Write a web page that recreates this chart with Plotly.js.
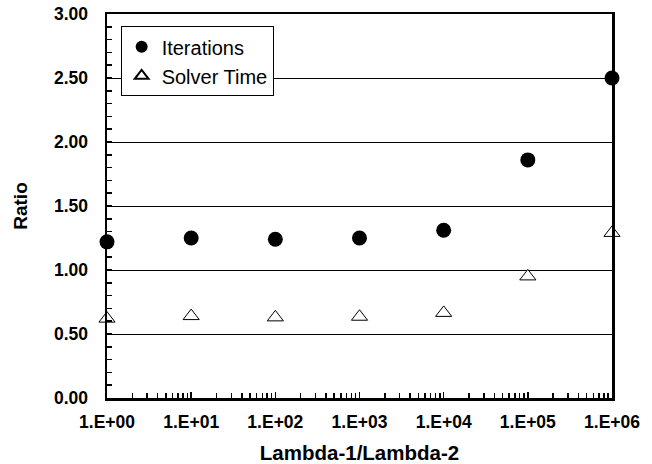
<!DOCTYPE html>
<html>
<head>
<meta charset="utf-8">
<script src="https://cdn.plot.ly/plotly-3.0.1.min.js"></script>
<style>html,body{margin:0;padding:0;background:#fff;}#chart{width:652px;height:464px;}</style>
</head>
<body>
<div id="chart"></div>
<script>
const xValues = [1, 10, 100, 1000, 10000, 100000, 1000000];
const iterations = [1.22, 1.25, 1.24, 1.25, 1.31, 1.86, 2.50];
const solverTime = [0.62, 0.64, 0.63, 0.635, 0.665, 0.95, 1.29];
const xTickVals = [1, 10, 100, 1000, 10000, 100000, 1000000];
const xTickText = ['1.E+00', '1.E+01', '1.E+02', '1.E+03', '1.E+04', '1.E+05', '1.E+06'];
const seriesNames = ['Iterations', 'Solver Time'];

const FONT = 'Liberation Sans, Arial, sans-serif';

// minor log tick positions (2..9 within each decade)
const minorX = [];
for (let d = 0; d < 6; d++) {
  for (let m = 2; m <= 9; m++) minorX.push(m * Math.pow(10, d));
}

const traces = [
  {
    x: xValues, y: iterations, name: seriesNames[0], type: 'scatter', mode: 'markers',
    cliponaxis: false,
    marker: {symbol: 'circle', size: 15, color: '#000', line: {width: 0}}
  },
  {
    x: xValues, y: solverTime, name: seriesNames[1], type: 'scatter', mode: 'markers',
    cliponaxis: false,
    marker: {symbol: 'triangle-up', size: 14, color: '#fff', line: {width: 1, color: '#000'}}
  },
  {
    // carrier trace so the minor-tick overlay axes get drawn
    x: [], y: [], type: 'scatter', mode: 'markers', xaxis: 'x2', yaxis: 'y2',
    showlegend: false, hoverinfo: 'skip'
  }
];

const layout = {
  width: 652, height: 464,
  margin: {l: 107, r: 40, t: 14, b: 66},
  paper_bgcolor: '#fff', plot_bgcolor: '#fff',
  showlegend: true,
  font: {family: FONT, color: '#000'},
  legend: {
    x: 0.027, y: 0.968, xanchor: 'left', yanchor: 'top',
    bordercolor: '#000', borderwidth: 1, bgcolor: '#fff',
    font: {family: FONT, size: 20, color: '#000'},
    itemwidth: 30, tracegroupgap: 0, itemsizing: 'constant'
  },
  xaxis: {
    type: 'log', range: [0, 6],
    tickvals: xTickVals, ticktext: xTickText,
    tickfont: {family: FONT, size: 17.5, weight: 'bold', color: '#000'},
    ticks: 'inside', ticklen: 6, tickwidth: 1.5, tickcolor: '#000',
    ticklabelstandoff: 6,
    showgrid: false, zeroline: false,
    showline: true, linecolor: '#000', linewidth: 2.5, mirror: true,
    title: {text: 'Lambda-1/Lambda-2', font: {family: FONT, size: 20.5, weight: 'bold', color: '#000'}, standoff: 20}
  },
  xaxis2: {
    type: 'log', range: [0, 6], overlaying: 'x', anchor: 'y2', side: 'bottom',
    tickmode: 'array', tickvals: minorX, showticklabels: false,
    ticks: 'inside', ticklen: 5, tickwidth: 1.5, tickcolor: '#000',
    showgrid: false, zeroline: false, showline: false
  },
  yaxis: {
    range: [0, 3], dtick: 0.5, tick0: 0, tickformat: '.2f',
    tickfont: {family: FONT, size: 17.5, weight: 'bold', color: '#000'},
    ticks: 'inside', ticklen: 5, tickwidth: 1.5, tickcolor: '#000',
    ticklabelstandoff: 13,
    showgrid: true, gridcolor: '#000', gridwidth: 1, zeroline: false,
    showline: true, linecolor: '#000', linewidth: 2.5, mirror: true,
    title: {text: 'Ratio', font: {family: FONT, size: 19, weight: 'bold', color: '#000'}, standoff: 22}
  },
  yaxis2: {
    range: [0, 3], overlaying: 'y', anchor: 'x2', side: 'left',
    tick0: 0, dtick: 0.1, showticklabels: false,
    ticks: 'inside', ticklen: 5, tickwidth: 1.5, tickcolor: '#000',
    showgrid: false, zeroline: false, showline: false
  }
};

Plotly.newPlot('chart', traces, layout, {displayModeBar: false, staticPlot: true});
</script>
</body>
</html>
